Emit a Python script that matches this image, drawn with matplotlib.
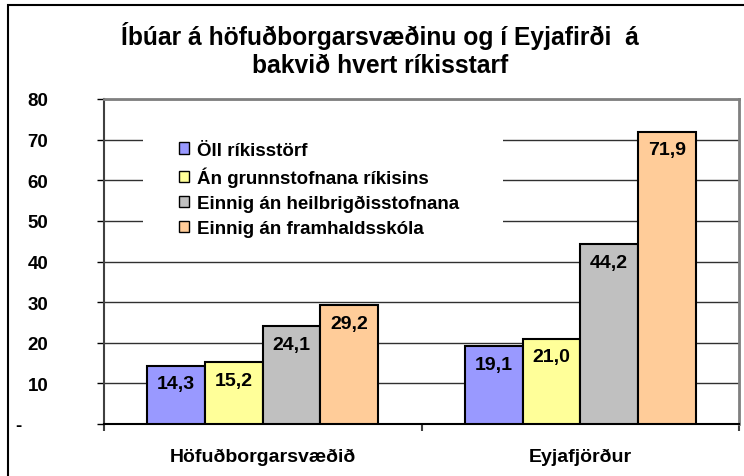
import matplotlib
matplotlib.use("Agg")
import matplotlib.pyplot as plt
from matplotlib.patches import Rectangle, Patch
import numpy as np

categories = ["Höfuðborgarsvæðið", "Eyjafjörður"]
series_names = ["Öll ríkisstörf", "Án grunnstofnana ríkisins",
                "Einnig án heilbrigðisstofnana", "Einnig án framhaldsskóla"]
values = [
    [14.3, 19.1],
    [15.2, 21.0],
    [24.1, 44.2],
    [29.2, 71.9],
]
colors = ["#9999FF", "#FFFF99", "#C0C0C0", "#FFCC99"]
yticks = [0, 10, 20, 30, 40, 50, 60, 70, 80]
yticklabels = ["-     ", "10", "20", "30", "40", "50", "60", "70", "80"]
title = "Íbúar á höfuðborgarsvæðinu og í Eyjafirði  á\nbakvið hvert ríkisstarf"

plt.rcParams['font.family'] = ['Liberation Sans', 'DejaVu Sans']

W, H = 744, 477
fig = plt.figure(figsize=(W / 100, H / 100), dpi=100)
ax = fig.add_axes([104 / W, (H - 425) / H, (739 - 104) / W, (425 - 100) / H])

# figure border
fig.patches.append(Rectangle((8 / W, -0.1), 1.2, 1.1 - 6 / H, transform=fig.transFigure,
                             fill=False, edgecolor="black", linewidth=1.5))

n = len(series_names)
bw = 1 / 5.5
x = np.arange(len(categories))
for i in range(n):
    offs = (i - (n - 1) / 2) * bw
    ax.bar(x + offs, values[i], width=bw, color=colors[i], edgecolor="black",
           linewidth=1.5, zorder=3)
    for xi, v in zip(x + offs, values[i]):
        ax.annotate(f"{v:.1f}".replace(".", ","), (xi, v), xytext=(0, -13),
                    textcoords="offset points", ha="center", va="center",
                    fontsize=14, fontweight="bold", zorder=4)

ax.set_xlim(-0.5, 1.5)
ax.set_ylim(0, 80)
ax.set_yticks(yticks)
ax.set_yticklabels(yticklabels, fontsize=13.5, fontweight="bold")
ax.tick_params(axis="y", length=5, width=1, color="black", pad=35)
ax.yaxis.grid(True, color="#303030", linewidth=1, zorder=0)
ax.set_axisbelow(True)

ax.set_xticks(x)
ax.set_xticklabels(categories, fontsize=14, fontweight="bold")
ax.set_xticks([-0.5, 0.5, 1.5], minor=True)
ax.tick_params(axis="x", which="major", length=0, pad=17)
ax.tick_params(axis="x", which="minor", length=5, width=1.5, color="#404040")

ax.spines["top"].set_color("#808080")
ax.spines["top"].set_linewidth(2)
ax.spines["right"].set_color("#808080")
ax.spines["right"].set_linewidth(2)
ax.spines["left"].set_color("#404040")
ax.spines["left"].set_linewidth(1.5)
ax.spines["bottom"].set_color("black")
ax.spines["bottom"].set_linewidth(1.5)

# white backing of the legend area (covers gridlines like the original)
ax.add_patch(Rectangle((143 / W, (H - 245) / H), (503 - 143) / W, 125 / H,
                       transform=fig.transFigure, facecolor="white", edgecolor="none",
                       zorder=4))

handles = [Patch(facecolor=c, edgecolor="black", linewidth=1) for c in colors]
leg = ax.legend(handles, series_names, loc="upper left",
                bbox_to_anchor=(173 / W, (H - 137) / H), bbox_transform=fig.transFigure,
                frameon=False, prop={"weight": "bold", "size": 13.5},
                handlelength=0.55, handleheight=0.55,
                handletextpad=0.45, labelspacing=0.42, borderpad=0.3, borderaxespad=0)
leg.set_zorder(5)

fig.text(380 / W, 1 - 50 / H, title, ha="center", va="center", fontsize=17.7,
         fontweight="bold", linespacing=1.25)

fig.savefig("out.png", dpi=100)
